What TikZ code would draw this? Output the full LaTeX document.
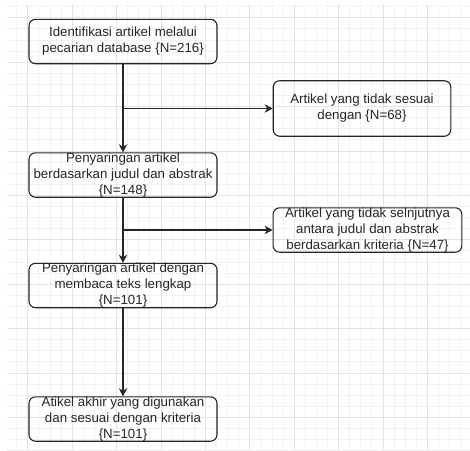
\documentclass[tikz,border=0pt]{standalone}
\usepackage{fontspec}
\setmainfont{Liberation Sans}
\usetikzlibrary{arrows.meta}
\begin{document}
\begin{tikzpicture}[x=1pt,y=-1pt,
  box/.style={draw=black!85, line width=1.1pt, rounded corners=6.5pt, align=center,
    inner sep=0pt, font=\fontsize{13.3}{16}\selectfont, text=black!85},
  flow/.style={draw=black!85, line width=1.1pt, -{Stealth[length=8pt,width=8.5pt,inset=2.5pt]}},
  minorline/.style={draw=gray!10, line width=0.8pt},
  majorline/.style={draw=gray!22, line width=0.8pt}]
\useasboundingbox (0,0) rectangle (470,450);
\begin{scope}
  \clip (7,4) rectangle (470,450);
  \foreach \i in {0,...,43} {
    \draw[minorline] ({5.5+11.1*\i},0) -- ({5.5+11.1*\i},450);
    \draw[minorline] (0,{6.6+11.1*\i}) -- (470,{6.6+11.1*\i});
  }
  \foreach \i in {0,...,10} {
    \draw[majorline] ({27.7+44.4*\i},0) -- ({27.7+44.4*\i},450);
    \draw[majorline] (0,{17.7+44.4*\i}) -- (470,{17.7+44.4*\i});
  }
\end{scope}

\node[box, minimum width=188pt, minimum height=44.4pt] (b1) at (123,41.5)
  {Identifikasi artikel melalui\\pecarian database \{N=216\}};
\node[box, minimum width=177.6pt, minimum height=55.5pt] (b2) at (362,108.5)
  {Artikel yang tidak sesuai\\dengan \{N=68\}};
\node[box, minimum width=188pt, minimum height=44.4pt] (b3) at (123,175)
  {Penyaringan artikel\\berdasarkan judul dan abstrak\\\{N=148\}};
\node[box, minimum width=188.7pt, minimum height=44.4pt] (b4) at (367.5,230)
  {Artikel yang tidak selnjutnya\\antara judul dan abstrak\\berdasarkan kriteria \{N=47\}};
\node[box, minimum width=188pt, minimum height=44.4pt] (b5) at (123,285.5)
  {Penyaringan artikel dengan\\membaca teks lengkap\\\{N=101\}};
\node[box, minimum width=188pt, minimum height=44.4pt] (b6) at (123,419)
  {Atikel akhir yang digunakan\\dan sesuai dengan kriteria\\\{N=101\}};

\draw[flow] (b1.south) -- (b3.north);
\draw[flow] (b1.south |- b2.west) -- (b2.west);
\draw[flow] (b3.south) -- (b5.north);
\draw[flow] (b3.south |- b4.west) -- (b4.west);
\draw[flow] (b5.south) -- (b6.north);
\end{tikzpicture}
\end{document}
